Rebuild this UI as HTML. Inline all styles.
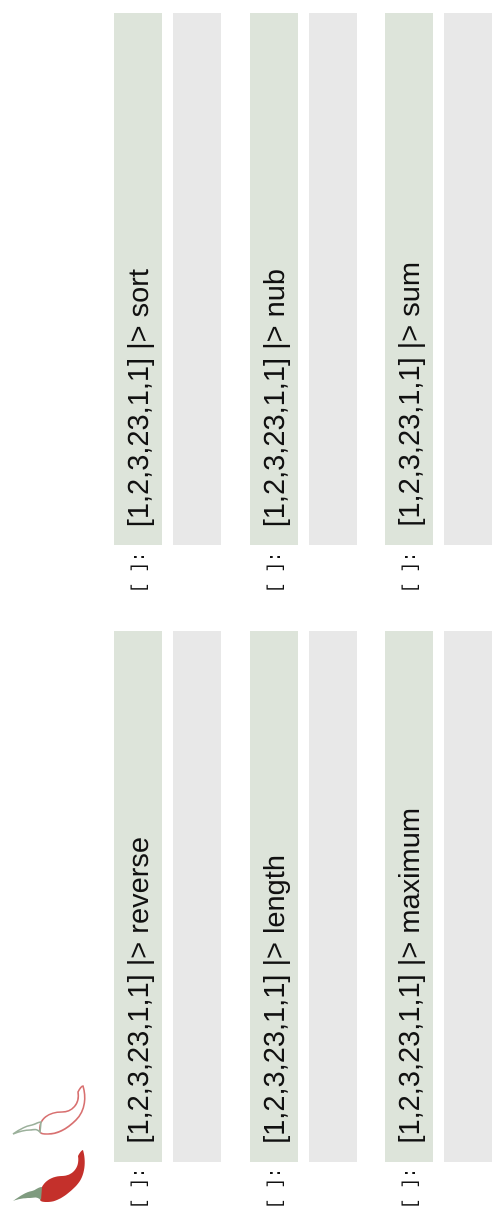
<!DOCTYPE html>
<html><head><meta charset="utf-8">
<style>
html,body{margin:0;padding:0;background:#fff;}
body{width:504px;height:1230px;position:relative;overflow:hidden;}
.cell{position:absolute;width:48px;}
.in{background:#dde4da;}
.out{background:#e8e8e8;}
.txt{position:absolute;left:0;width:48px;bottom:18px;writing-mode:vertical-rl;transform:rotate(180deg);
 font-family:"Liberation Sans",sans-serif;font-size:29px;line-height:50px;color:#111;white-space:nowrap;text-align:left;}
.prompt{position:absolute;writing-mode:vertical-rl;transform:rotate(180deg);font-family:"Liberation Mono",monospace;
 font-size:18px;line-height:20px;width:20px;letter-spacing:-0.5px;color:#111;white-space:pre;}
</style></head><body>
<svg style="position:absolute;left:10px;top:1082px" width="80" height="62" viewBox="0 0 80 62">
 <path d="M30 50 C28 36 40 30 52 30 C62 30 70 22 68 10 C70 6 72 4 73 4 C76 14 76 28 66 38 C58 46 48 52 38 52 C34 52 31 52 30 50Z" fill="none" stroke="#d87070" stroke-width="1.6"/>
 <path d="M30 50 C26 46 24 48 20 48 C14 48 8 50 3 52 C10 47 16 44 22 43 C26 42 28 40 31 40 Z" fill="none" stroke="#9bb09b" stroke-width="1.6"/>
</svg>
<svg style="position:absolute;left:10px;top:1146px" width="80" height="62" viewBox="0 0 80 62">
 <path d="M30 54 C28 38 40 30 52 30 C62 30 70 22 68 10 C70 6 72 4 73 4 C76 14 76 30 66 40 C58 48 48 56 38 56 C34 56 31 56 30 54Z" fill="#c4302b"/>
 <path d="M31 54 C26 50 24 52 20 52 C14 52 8 53 3 55 C10 50 16 46 22 45 C26 44 28 41 32 41 Z" fill="#7f9b7f"/>
</svg>

<div class="cell in" style="left:114px;top:13px;height:532px"><div class="txt">[1,2,3,23,1,1] |&gt; sort</div></div>
<div class="cell out" style="left:173px;top:13px;height:532px"></div>
<div class="prompt" style="left:130px;top:552px">[ ]:</div>

<div class="cell in" style="left:250px;top:13px;height:532px"><div class="txt">[1,2,3,23,1,1] |&gt; nub</div></div>
<div class="cell out" style="left:309px;top:13px;height:532px"></div>
<div class="prompt" style="left:266px;top:552px">[ ]:</div>

<div class="cell in" style="left:385px;top:13px;height:532px"><div class="txt">[1,2,3,23,1,1] |&gt; sum</div></div>
<div class="cell out" style="left:444px;top:13px;height:532px"></div>
<div class="prompt" style="left:401px;top:552px">[ ]:</div>

<div class="cell in" style="left:114px;top:631px;height:531px"><div class="txt">[1,2,3,23,1,1] |&gt; reverse</div></div>
<div class="cell out" style="left:173px;top:631px;height:531px"></div>
<div class="prompt" style="left:130px;top:1168px">[ ]:</div>

<div class="cell in" style="left:250px;top:631px;height:531px"><div class="txt">[1,2,3,23,1,1] |&gt; length</div></div>
<div class="cell out" style="left:309px;top:631px;height:531px"></div>
<div class="prompt" style="left:266px;top:1168px">[ ]:</div>

<div class="cell in" style="left:385px;top:631px;height:531px"><div class="txt">[1,2,3,23,1,1] |&gt; maximum</div></div>
<div class="cell out" style="left:444px;top:631px;height:531px"></div>
<div class="prompt" style="left:401px;top:1168px">[ ]:</div>
</body></html>
